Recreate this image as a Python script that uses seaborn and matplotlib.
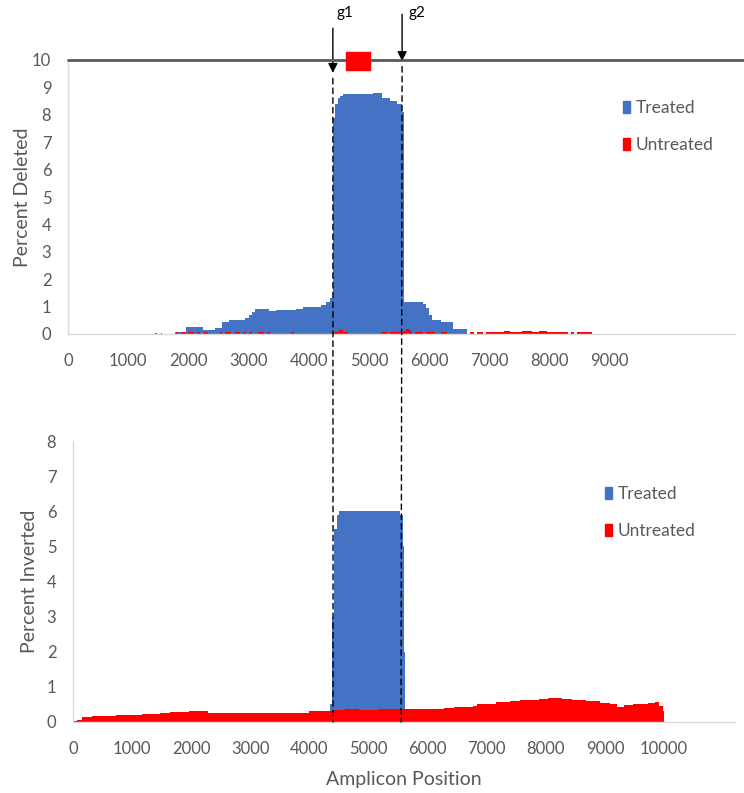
#!/usr/bin/env python3
"""
Deletion / inversion profiles along the amplicon, treated vs untreated.
"""

import numpy as np
import pandas as pd
import matplotlib.pyplot as plt
from matplotlib.patches import Patch, Rectangle, ConnectionPatch
import seaborn as sns

# ---- data -------------------------------------------------------------
# Percent deleted, treated: bin edges and value per bin
del_treated_edges = [1780, 1960, 2240, 2440, 2560, 2680, 2940, 3000, 3060, 3110,
                     3340, 3450, 3780, 3900, 4200, 4280, 4360, 4400, 4440, 4480,
                     4520, 4570, 5070, 5220, 5350, 5470, 5550, 5580, 5900, 5940,
                     6000, 6040, 6190, 6390, 6620]
del_treated_vals = [0.08, 0.25, 0.15, 0.22, 0.42, 0.52, 0.6, 0.7, 0.8, 0.9,
                    0.85, 0.88, 0.93, 0.98, 1.05, 1.15, 1.3, 7.9, 8.4, 8.6,
                    8.7, 8.75, 8.78, 8.6, 8.5, 8.4, 8.1, 1.18, 1.1, 0.95,
                    0.7, 0.5, 0.42, 0.18]

# Percent deleted, untreated: scattered short segments
del_untreated_start = [1450, 1540, 1790, 1880, 2000, 2150, 2260, 2520, 2600, 2780,
                       2900, 3000, 3150, 3300, 3700, 4400, 4500, 4560, 5200, 5350,
                       5580, 5620, 5680, 5760, 5950, 6200, 6680, 6800, 6950, 7250,
                       7350, 7550, 7700, 7820, 7950, 8350, 8450]
del_untreated_end = [1480, 1560, 1830, 1960, 2090, 2200, 2330, 2560, 2700, 2850,
                     2950, 3050, 3250, 3350, 3750, 4500, 4560, 4650, 5300, 5580,
                     5620, 5680, 5720, 5900, 6100, 6300, 6750, 6900, 7250, 7350,
                     7550, 7700, 7820, 7950, 8300, 8400, 8700]
del_untreated_vals = [0.05, 0.05, 0.07, 0.07, 0.07, 0.06, 0.07, 0.07, 0.07, 0.07,
                      0.06, 0.07, 0.07, 0.06, 0.06, 0.08, 0.14, 0.08, 0.06, 0.07,
                      0.1, 0.18, 0.1, 0.07, 0.07, 0.06, 0.06, 0.06, 0.06, 0.12,
                      0.07, 0.12, 0.07, 0.12, 0.06, 0.06, 0.07]

# Percent inverted, treated
inv_treated_edges = [4340, 4380, 4420, 4460, 4500, 5540, 5580, 5605, 5620]
inv_treated_vals = [0.5, 3.0, 5.5, 5.9, 6.0, 5.9, 5.0, 2.0]

# Percent inverted, untreated
inv_untreated_edges = [0, 60, 160, 320, 720, 1160, 1480, 1640, 1960, 2280,
                       4000, 4360, 4400, 4600, 4840, 5160, 6280, 6440, 6760, 6840,
                       7160, 7400, 7560, 7880, 8040, 8280, 8440, 8680, 8920, 9080,
                       9200, 9320, 9480, 9720, 9840, 9920, 9980, 10000]
inv_untreated_vals = [0.03, 0.07, 0.13, 0.17, 0.2, 0.23, 0.25, 0.28, 0.31, 0.27,
                      0.3, 0.31, 0.34, 0.37, 0.35, 0.38, 0.4, 0.42, 0.46, 0.5,
                      0.56, 0.6, 0.64, 0.66, 0.68, 0.66, 0.62, 0.59, 0.55, 0.5,
                      0.44, 0.48, 0.52, 0.55, 0.57, 0.45, 0.3]

guide_pos = [4400, 5550]
guide_labels = ["g1", "g2"]
target_region = [4620, 5020]

series_labels = ["Treated", "Untreated"]

BLUE = "#4472C4"
RED = "#FF0000"
GRAY = "#595959"
LIGHT = "#D9D9D9"


def draw_profile(ax, edges, mids, vals, color):
    """Filled step profile drawn through seaborn's histplot (weights = heights)."""
    df = pd.DataFrame({"pos": mids, "val": vals})
    sns.histplot(data=df, x="pos", weights="val", bins=[float(e) for e in edges],
                 element="step", fill=True, color=color, alpha=1, linewidth=0,
                 ax=ax)


def step_area(ax, edges, vals, color):
    edges = np.asarray(edges, dtype=float)
    mids = (edges[:-1] + edges[1:]) / 2
    draw_profile(ax, edges, mids, vals, color)


def segment_area(ax, starts, ends, vals, color):
    starts = np.asarray(starts, dtype=float)
    ends = np.asarray(ends, dtype=float)
    edges = np.unique(np.concatenate([starts, ends]))
    draw_profile(ax, edges, (starts + ends) / 2, vals, color)


def style_axes(ax, ylabel, ylim, xlim, xticks):
    ax.set_xlim(*xlim)
    ax.set_ylim(*ylim)
    ax.set_xticks(xticks)
    ax.set_yticks(range(0, ylim[1] + 1))
    ax.set_ylabel(ylabel, color=GRAY, fontsize=14)
    ax.set_xlabel("")
    ax.tick_params(length=0, labelsize=12, labelcolor=GRAY)
    ax.tick_params(axis="x", pad=14)
    ax.tick_params(axis="y", pad=12)
    for s in ["top", "right"]:
        ax.spines[s].set_visible(False)
    for s in ["left", "bottom"]:
        ax.spines[s].set_color(LIGHT)
        ax.spines[s].set_linewidth(1)


def add_legend(fig, x_px, y_px):
    handles = [Patch(color=BLUE), Patch(color=RED)]
    leg = fig.legend(handles, series_labels, loc="upper left",
                     bbox_to_anchor=(x_px / 744, 1 - y_px / 793),
                     frameon=False, fontsize=12.5, handlelength=0.4,
                     handleheight=0.65, handletextpad=0.35, labelspacing=1.2,
                     borderpad=0, borderaxespad=0)
    for t in leg.get_texts():
        t.set_color(GRAY)


sns.set_style("white")
plt.rcParams["font.family"] = ["Lato", "DejaVu Sans"]

fig = plt.figure(figsize=(7.44, 7.93), dpi=100)
W, H = 744, 793

# top panel: percent deleted
ax1 = fig.add_axes([68 / W, 1 - 334 / H, 667 / W, 274 / H])
step_area(ax1, del_treated_edges, del_treated_vals, BLUE)
segment_area(ax1, del_untreated_start, del_untreated_end, del_untreated_vals, RED)
style_axes(ax1, "Percent Deleted", (0, 10), (0, 11080), range(0, 10000, 1000))
ax1.yaxis.set_label_coords(-0.055, 0.5)
ax1.axhline(10, 0, 1.015, color=GRAY, lw=2, clip_on=False, zorder=5)

# target region marker on the amplicon line
ax1.add_patch(Rectangle((target_region[0], 9.64), target_region[1] - target_region[0],
                        0.66, color=RED, clip_on=False, zorder=6))

# guide arrows and labels
arrow_tops = [11.16, 11.67]
arrow_tips = [9.53, 9.96]
label_dx = [60, 100]
for gx, lab, top, tip, dx in zip(guide_pos, guide_labels, arrow_tops, arrow_tips,
                                 label_dx):
    ax1.annotate("", xy=(gx, tip), xytext=(gx, top),
                 arrowprops=dict(arrowstyle="-|>", color="black", lw=1,
                                 mutation_scale=14, shrinkA=0, shrinkB=0),
                 annotation_clip=False)
    ax1.text(gx + dx, 11.72, lab, fontsize=11, color="black",
             ha="left", va="center", clip_on=False)

# bottom panel: percent inverted
ax2 = fig.add_axes([73 / W, 1 - 722 / H, 662 / W, 281 / H])
step_area(ax2, inv_treated_edges, inv_treated_vals, BLUE)
step_area(ax2, inv_untreated_edges, inv_untreated_vals, RED)
style_axes(ax2, "Percent Inverted", (0, 8), (0, 11200), range(0, 11000, 1000))
ax2.yaxis.set_label_coords(-0.053, 0.5)
ax2.set_xlabel("Amplicon Position", color=GRAY, fontsize=14, labelpad=10)

# dashed guide lines through both panels
for gx, tip in zip(guide_pos, arrow_tips):
    con = ConnectionPatch(xyA=(gx, tip - 0.2), coordsA=ax1.transData,
                          xyB=(gx, 0), coordsB=ax2.transData,
                          color="black", lw=1, linestyle=(0, (4, 3)), zorder=10)
    fig.add_artist(con)

add_legend(fig, 623, 100)
add_legend(fig, 605, 486)

fig.savefig("out.png", dpi=100, facecolor="white")
plt.close(fig)
